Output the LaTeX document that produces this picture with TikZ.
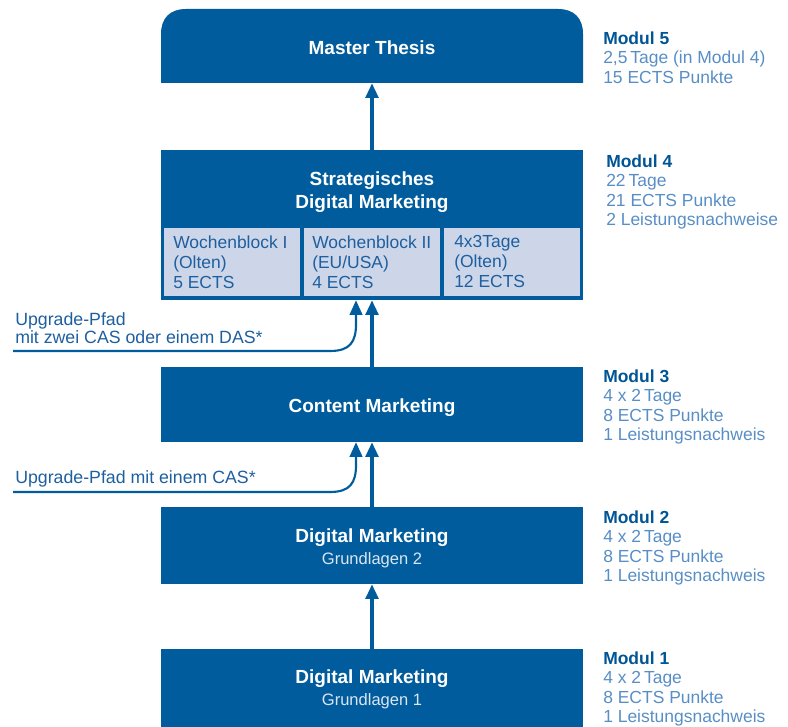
\documentclass[tikz,border=0pt]{standalone}
\usepackage{fontspec}
\setmainfont{Liberation Sans}
\usetikzlibrary{arrows.meta,fit}
\definecolor{mblue}{RGB}{0,92,156}
\definecolor{sbfill}{RGB}{204,214,232}
\definecolor{sbtext}{RGB}{30,95,160}
\definecolor{sidetext}{RGB}{88,142,198}
\definecolor{sidehead}{RGB}{0,85,150}
\definecolor{subtle}{RGB}{220,230,242}
\begin{document}
\begin{tikzpicture}[x=0.75pt,y=-0.75pt,
  box/.style={fill=mblue, inner sep=0pt, draw=none},
  subbox/.style={fill=sbfill, inner sep=0pt, draw=none},
  ttl/.style={text=white, font=\fontsize{14.25}{17.25}\selectfont\bfseries, align=center, inner sep=0pt},
  subttl/.style={text=subtle, font=\fontsize{12.4}{15}\selectfont, inner sep=0pt, anchor=base},
  subtxt/.style={text=sbtext, font=\fontsize{13.1}{15}\selectfont, align=left, inner sep=0pt, anchor=north west},
  side/.style={text=sidetext, font=\fontsize{13.1}{14.6}\selectfont, align=left, inner sep=0pt, anchor=north west},
  uplabel/.style={text=sbtext, font=\fontsize{13.3}{13.5}\selectfont, align=left, inner sep=0pt, anchor=north west},
  conn/.style={draw=mblue, line width=2.5pt, -{Triangle[width=9.5pt,length=11pt]}},
  upconn/.style={draw=mblue, line width=1.6pt, -{Triangle[width=9.5pt,length=11pt]}}
]
\useasboundingbox (0,0) rectangle (788,727);

% Modul 5 box (rounded top)
\fill[mblue] (161,83) -- (161,34) .. controls (161,18) and (170,9) .. (186,9) -- (558,9) .. controls (574,9) and (583,18) .. (583,34) -- (583,83) -- cycle;
\node[inner sep=0pt, fit={(161,9)(583,83)}] (m5) {};
\node[ttl, anchor=base] (t5) at (372,55) {Master Thesis};

% Modul 4 box
\node[box, fit={(161,150)(583,300)}] (m4) {};
\node[ttl, anchor=north] (t4) at (372,171.5) {Strategisches\\Digital Marketing};
\node[subbox, fit={(164,228)(300,296)}] (sb1) {};
\node[subbox, fit={(304,228)(440,296)}] (sb2) {};
\node[subbox, fit={(444,228)(580,296)}] (sb3) {};
\node[subtxt] (st1) at (173,235.4) {Wochenblock I\\(Olten)\\5 ECTS};
\node[subtxt] (st2) at (312,235.4) {Wochenblock II\\(EU/USA)\\4 ECTS};
\node[subtxt] (st3) at (454,235.4) {4x3Tage\\(Olten)\\12 ECTS};

% Modul 3 box
\node[box, fit={(161,367)(583,442)}] (m3) {};
\node[ttl, anchor=base] (t3) at (372,412) {Content Marketing};

% Modul 2 box
\node[box, fit={(161,507)(583,584)}] (m2) {};
\node[ttl, anchor=base] (t2) at (372,542) {Digital Marketing};
\node[subttl] (g2) at (372,564) {Grundlagen 2};

% Modul 1 box
\node[box, fit={(161,649)(583,727)}] (m1) {};
\node[ttl, anchor=base] (t1) at (372,683) {Digital Marketing};
\node[subttl] (g1) at (372,705) {Grundlagen 1};

% connectors
\draw[conn] (m1.north) -- (m2.south);
\draw[conn] (m2.north) -- (m3.south);
\draw[conn] (m3.north) -- (m4.south);
\draw[conn] (m4.north) -- (m5.south);

\coordinate (ux) at (356,0);
\coordinate (ua) at (13,351);
\coordinate (ub) at (13,492);
\draw[upconn] (ua) -- (330,351) .. controls (350,351) and (356,342) .. (356,324) -- (m4.south -| ux);
\draw[upconn] (ub) -- (330,492) .. controls (350,492) and (356,483) .. (356,465) -- (m3.south -| ux);

\node[uplabel] (ul1) at (15,312) {Upgrade-Pfad\\mit zwei CAS oder einem DAS*};
\node[uplabel] (ul2) at (15,470) {Upgrade-Pfad mit einem CAS*};

% side texts
\node[side] (s5) at (603,31.4) {{\bfseries\color{sidehead}Modul 5}\\2,5\,Tage (in Modul 4)\\15 ECTS Punkte};
\node[side] (s4) at (606,154.4) {{\bfseries\color{sidehead}Modul 4}\\22\,Tage\\21 ECTS Punkte\\2 Leistungsnachweise};
\node[side] (s3) at (603,369.4) {{\bfseries\color{sidehead}Modul 3}\\4 x 2\,Tage\\8 ECTS Punkte\\1 Leistungsnachweis};
\node[side] (s2) at (603,510.4) {{\bfseries\color{sidehead}Modul 2}\\4 x 2\,Tage\\8 ECTS Punkte\\1 Leistungsnachweis};
\node[side] (s1) at (603,651.4) {{\bfseries\color{sidehead}Modul 1}\\4 x 2\,Tage\\8 ECTS Punkte\\1 Leistungsnachweis};
\end{tikzpicture}
\end{document}
